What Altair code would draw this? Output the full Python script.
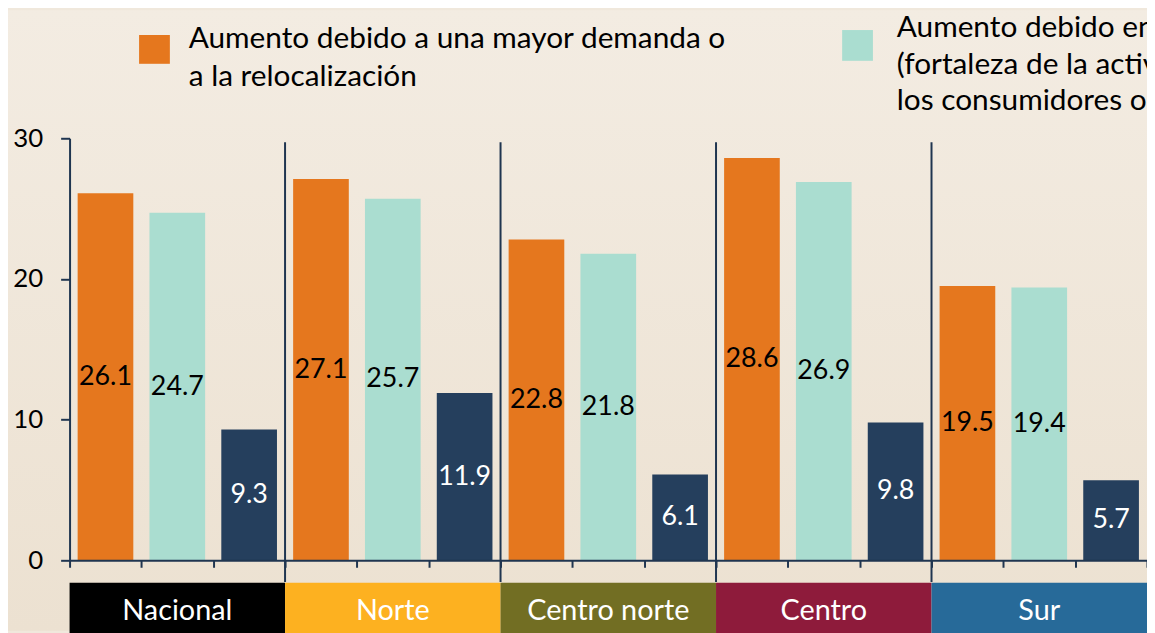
import altair as alt
import pandas as pd

# ---- data ----
groups = ["Nacional", "Norte", "Centro norte", "Centro", "Sur"]
series = ["demanda", "consumo", "otro"]
demanda = [26.1, 27.1, 22.8, 28.6, 19.5]
consumo = [24.7, 25.7, 21.8, 26.9, 19.4]
otro = [9.3, 11.9, 6.1, 9.8, 5.7]
series_colors = ["#E5771E", "#AADDD0", "#253F5D"]
label_colors = ["#000000", "#000000", "#FFFFFF"]
group_colors = ["#000000", "#FDB120", "#726E23", "#8E1B3B", "#276A99"]
legend_texts = [
    "Aumento debido a una mayor demanda  o\na la relocalización",
    "Aumento  debido  en  el  consumo\n(fortaleza  de  la  actividad  de\nlos consumidores o empresas)",
]

rows = []
keys = []
for gi, g in enumerate(groups):
    for si, (s, vals) in enumerate(zip(series, [demanda, consumo, otro])):
        k = f"{g}|{s}"
        keys.append(k)
        rows.append({"key": k, "group": g, "series": s, "value": vals[gi],
                     "color": series_colors[si], "tcolor": label_colors[si]})
df = pd.DataFrame(rows)

grp_df = pd.DataFrame({
    "group": groups,
    "first": [f"{g}|{series[0]}" for g in groups],
    "mid": [f"{g}|{series[1]}" for g in groups],
    "color": group_colors,
})
sep_df = grp_df.iloc[1:]

W, H = 1085, 425
FONT = "Lato"
AXC = "#1F3550"

xs = alt.Scale(domain=keys, paddingInner=0, paddingOuter=0)
ys = alt.Scale(domain=[0, 30], nice=False)

bg = alt.Chart(pd.DataFrame({"a": [0]})).mark_rect(
    color=alt.LinearGradient(
        gradient="linear",
        stops=[alt.GradientStop(color="#F3ECE2", offset=0),
               alt.GradientStop(color="#ECE1D1", offset=1)],
        x1=0, x2=0, y1=0, y2=1)
).encode(x=alt.value(-62), x2=alt.value(W + 10), y=alt.value(-129), y2=alt.value(H + 71))

bars = alt.Chart(df).mark_bar(width=alt.RelativeBandSize(0.775)).encode(
    x=alt.X("key:N", scale=xs,
            axis=alt.Axis(labels=False, title=None, grid=False, tickBand="extent",
                          tickSize=7, tickWidth=2, tickColor=AXC,
                          domainColor=AXC, domainWidth=2, zindex=1)),
    y=alt.Y("value:Q", scale=ys,
            axis=alt.Axis(values=[0, 10, 20, 30], title=None, grid=False,
                          tickSize=9, tickWidth=2, tickColor=AXC,
                          domainColor=AXC, domainWidth=2, zindex=1,
                          labelFont=FONT, labelFontSize=26, labelColor="#000000",
                          labelPadding=18)),
    color=alt.Color("color:N", scale=None, legend=None),
)

labels = alt.Chart(df).transform_calculate(mid="datum.value / 2").mark_text(
    font=FONT, fontSize=27, align="center", baseline="middle"
).encode(
    x=alt.X("key:N", scale=xs),
    y=alt.Y("mid:Q", scale=ys),
    text=alt.Text("value:Q", format=".1f"),
    color=alt.Color("tcolor:N", scale=None, legend=None),
)

seps = alt.Chart(sep_df).mark_rule(strokeWidth=2, color=AXC).encode(
    x=alt.X("first:N", scale=xs, bandPosition=0),
    y=alt.YDatum(29.72, scale=ys),
    y2=alt.Y2Datum(-1.55),
)

boxes = alt.Chart(grp_df).mark_bar(width=alt.RelativeBandSize(3)).encode(
    x=alt.X("mid:N", scale=xs),
    y=alt.YDatum(-1.6, scale=ys),
    y2=alt.Y2Datum(-5.3),
    color=alt.Color("color:N", scale=None, legend=None),
)

box_text = alt.Chart(grp_df).mark_text(
    font=FONT, fontSize=29, color="#FFFFFF", align="center", baseline="middle"
).encode(
    x=alt.X("mid:N", scale=xs),
    y=alt.YDatum(-3.6, scale=ys),
    text="group:N",
)

leg_sq1 = alt.Chart(pd.DataFrame({"a": [0]})).mark_rect(color=series_colors[0]).encode(
    x=alt.value(70), x2=alt.value(101), y=alt.value(-104), y2=alt.value(-75))
leg_sq2 = alt.Chart(pd.DataFrame({"a": [0]})).mark_rect(color=series_colors[1]).encode(
    x=alt.value(778), x2=alt.value(809), y=alt.value(-109), y2=alt.value(-78))
leg_t1 = alt.Chart(pd.DataFrame({"t": [legend_texts[0]]})).mark_text(
    font=FONT, fontSize=30, align="left", baseline="alphabetic",
    lineBreak="\n", lineHeight=38.5, color="#000000"
).encode(x=alt.value(120), y=alt.value(-91), text="t:N")
leg_t2 = alt.Chart(pd.DataFrame({"t": [legend_texts[1]]})).mark_text(
    font=FONT, fontSize=30, align="left", baseline="alphabetic",
    lineBreak="\n", lineHeight=37, color="#000000"
).encode(x=alt.value(833), y=alt.value(-102), text="t:N")

chart = alt.layer(
    bg, bars, labels, seps, boxes, box_text, leg_sq1, leg_sq2, leg_t1, leg_t2
).properties(
    width=W, height=H,
    autosize=alt.AutoSizeParams(type="none"),
    padding={"left": 62, "top": 129, "right": 0, "bottom": 71},
    background="#F0E8DC",
).configure_view(stroke=None)

chart.save("out.html", embed_options={"renderer": "svg", "actions": False})
